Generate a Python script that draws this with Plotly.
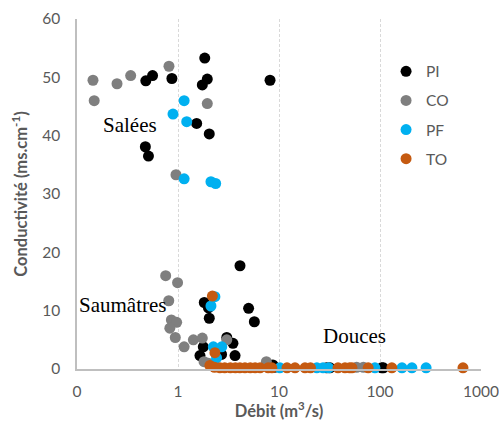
import math
import plotly.graph_objects as go

# ---- data ----
pi_debit = [0.48, 0.56, 0.87, 1.84, 1.74, 1.95, 1.53, 2.04, 0.475, 0.51, 8.15,
            4.11, 1.82, 2.04, 2.0, 5.0, 5.7, 1.65, 1.78, 3.04, 3.5, 3.67, 2.7,
            8.7, 9.0, 29.6, 32.0, 104, 108]
pi_cond = [49.4, 50.3, 49.8, 53.3, 48.7, 49.7, 42.1, 40.3, 38.1, 36.5, 49.5,
           17.7, 11.4, 8.7, 10.5, 10.4, 8.1, 2.3, 3.8, 5.4, 4.4, 2.3, 2.5,
           0.7, 0.3, 0.2, 0.2, 0.2, 0.2]

co_debit = [0.144, 0.148, 0.249, 0.34, 0.814, 1.95, 0.955,
            0.755, 0.99, 0.81, 0.86, 0.97, 0.83, 0.94, 1.15, 1.42, 1.74, 1.81, 3.04,
            2.0, 7.5, 58.7, 68.5]
co_cond = [49.5, 46.0, 48.9, 50.3, 51.9, 45.5, 33.3,
           16.0, 14.8, 11.7, 8.4, 8.0, 7.0, 5.4, 3.8, 5.0, 5.3, 1.25, 5.0,
           1.0, 1.25, 0.3, 0.3]

pf_debit = [1.15, 0.892, 1.22, 1.15, 2.12, 2.36,
            2.32, 2.12, 2.24, 2.71, 2.41,
            10.2, 23.7, 27.3, 31.0, 89.1, 165, 207, 286]
pf_cond = [46.0, 43.7, 42.4, 32.6, 32.1, 31.8,
           12.4, 10.8, 3.8, 3.8, 1.9,
           0.2, 0.2, 0.2, 0.2, 0.2, 0.2, 0.2, 0.2]

to_debit = [2.19, 2.32,
            2.07, 2.3, 2.6, 2.9, 3.3, 3.7, 4.1, 4.6, 5.2, 5.8, 6.5, 7.8, 8.5,
            12.0, 14.4, 18.1, 20.5, 38.4, 45.0, 50.0, 52.8, 76.4, 131, 663]
to_cond = [12.5, 2.8,
           0.6, 0.3, 0.2, 0.2, 0.2, 0.2, 0.2, 0.2, 0.2, 0.2, 0.2, 0.2, 0.2,
           0.2, 0.2, 0.2, 0.2, 0.2, 0.2, 0.2, 0.2, 0.2, 0.2, 0.2]

series = [
    ("PI", pi_debit, pi_cond, "#000000"),
    ("CO", co_debit, co_cond, "#7f7f7f"),
    ("PF", pf_debit, pf_cond, "#00b0f0"),
    ("TO", to_debit, to_cond, "#c55a11"),
]

x_tickvals = [0.1, 1, 10, 100, 1000]
x_ticktext = ["0", "1", "10", "100", "1000"]
y_tickvals = [0, 10, 20, 30, 40, 50, 60]

labels = [("Salées", 0.335, 41.9), ("Saumâtres", 0.279, 11.0), ("Douces", 56.5, 5.7)]

TXT = "#595959"
FONT = "Lato, 'Open Sans', sans-serif"

fig = go.Figure()
for name, xs, ys, col in series:
    fig.add_trace(go.Scatter(
        x=xs, y=ys, mode="markers", name=name, legendgroup=name,
        marker=dict(color=col, size=11, line=dict(width=0)),
        cliponaxis=False,
    ))

for txt, xv, yv in labels:
    fig.add_annotation(x=math.log10(xv), y=yv, xref="x", yref="y", text=txt,
                       showarrow=False,
                       font=dict(family="'Liberation Serif', 'Times New Roman', serif",
                                 size=21, color="#000000"))

fig.update_layout(
    width=499, height=421,
    margin=dict(l=77, r=18, t=19, b=52),
    paper_bgcolor="white", plot_bgcolor="white",
    font=dict(family=FONT, size=15.5, color=TXT),
    showlegend=True,
    legend=dict(x=0.765, y=0.898, xanchor="left", yanchor="top",
                font=dict(family=FONT, size=15.5, color=TXT),
                tracegroupgap=6, bgcolor="rgba(0,0,0,0)"),
    xaxis=dict(type="log", range=[-1, 3], tickvals=x_tickvals, ticktext=x_ticktext,
               automargin=False,
               showgrid=True, gridcolor="#d9d9d9", griddash="3px,2px", gridwidth=1,
               showline=True, linecolor="#bfbfbf", linewidth=1.5,
               ticks="", ticklabelstandoff=8, zeroline=False,
               tickfont=dict(size=15.5, color=TXT),
               title=dict(text="<b>Débit (m<sup>3</sup>/s)</b>", standoff=4,
                          font=dict(size=16.5, color=TXT))),
    yaxis=dict(range=[0, 60], tickvals=y_tickvals, automargin=False,
               showgrid=False, showline=True, linecolor="#bfbfbf", linewidth=1.5,
               ticks="", ticklabelstandoff=12, zeroline=False,
               tickfont=dict(size=15.5, color=TXT),
               title=dict(text="<b>Conductivité (ms.cm<sup>-1</sup>)</b>", standoff=10,
                          font=dict(size=16.5, color=TXT))),
)

fig.write_html("out.html")
